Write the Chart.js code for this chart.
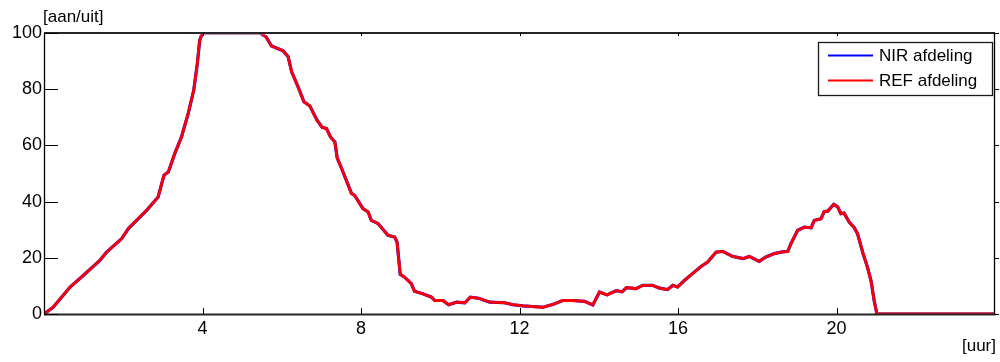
<!DOCTYPE html>
<html>
<head>
<meta charset="utf-8">
<script src="https://cdn.jsdelivr.net/npm/chart.js@4.4.0/dist/chart.umd.min.js"></script>
<style>
html,body{margin:0;padding:0;background:#fff;}
#wrap{width:1000px;height:362px;position:relative;}
</style>
</head>
<body>
<div id="wrap"><canvas id="c" width="1000" height="362"></canvas></div>
<script>
// ---- data ----
const seriesNames = ["NIR afdeling", "REF afdeling"];
const xTickValues = [4, 8, 12, 16, 20];
const yTickValues = [0, 20, 40, 60, 80, 100];
const hours = [0, 0.23, 0.66, 0.99, 1.41, 1.58, 1.96, 2.13, 2.59, 2.88, 2.97, 3.03, 3.14, 3.30, 3.47, 3.64, 3.78, 3.87, 3.93, 4.0,
  5.45, 5.6, 5.74, 6.03, 6.16, 6.25, 6.41, 6.56, 6.71, 6.89, 7.02, 7.13, 7.23, 7.34, 7.40, 7.51, 7.76, 7.84, 8.05, 8.18,
  8.26, 8.43, 8.68, 8.85, 8.91, 8.99, 9.1, 9.27, 9.35, 9.56, 9.78, 9.86, 10.07, 10.21, 10.41, 10.62, 10.76, 10.97, 11.25, 11.62,
  11.83, 12.09, 12.59, 12.84, 13.09, 13.35, 13.64, 13.85, 14.02, 14.21, 14.44, 14.59, 14.70, 14.94, 15.11, 15.36, 15.53, 15.74, 15.87, 15.99,
  16.16, 16.41, 16.58, 16.75, 16.96, 17.13, 17.38, 17.64, 17.8, 18.05, 18.22, 18.43, 18.6, 18.77, 18.85, 19.02, 19.19, 19.36, 19.44, 19.61,
  19.69, 19.78, 19.93, 20.03, 20.11, 20.19, 20.32, 20.45, 20.53, 20.66, 20.78, 20.87, 20.95, 21.02, 24];
const nirValues = [0, 2.4, 9.6, 13.7, 19.1, 22, 26.8, 30.4, 36.9, 41.6, 46.4, 49.4, 50.6, 57.1, 63, 71.4, 79.7, 89.2, 97.5, 100,
  100, 98.7, 95.4, 93.7, 91.6, 86.2, 80.9, 75.5, 74, 69, 66.4, 66, 63, 61.2, 55.5, 51.8, 42.9, 42.2, 37.5, 36.3,
  33.3, 32.2, 28, 27.4, 25.6, 14.1, 13.1, 10.8, 8.1, 7.2, 6, 4.8, 4.8, 3.3, 4.2, 4, 6, 5.6, 4.2, 4,
  3.3, 2.9, 2.4, 3.4, 4.8, 4.8, 4.5, 3.2, 7.8, 6.8, 8.3, 7.9, 9.4, 9, 10.2, 10.2, 9.2, 8.7, 10.2, 9.6,
  11.9, 14.9, 16.9, 18.5, 22, 22.3, 20.5, 19.7, 20.5, 18.7, 20.3, 21.5, 22, 22.3, 25, 29.8, 30.9, 30.7, 33.3, 33.9,
  36.5, 36.6, 39, 38.1, 35.7, 35.9, 32.7, 30.7, 28.6, 22, 16.7, 11.9, 4.8, 0, 0];
const refValues = [0, 2.4, 9.6, 13.7, 19.1, 22, 26.8, 30.4, 36.9, 41.6, 46.4, 49.4, 50.6, 57.1, 63, 71.4, 79.7, 89.2, 97.5, 100,
  100, 98.7, 95.4, 93.7, 91.6, 86.2, 80.9, 75.5, 74, 69, 66.4, 66, 63, 61.2, 55.5, 51.8, 42.9, 42.2, 37.5, 36.3,
  33.3, 32.2, 28, 27.4, 25.6, 14.1, 13.1, 10.8, 8.1, 7.2, 6, 4.8, 4.8, 3.3, 4.2, 4, 6, 5.6, 4.2, 4,
  3.3, 2.9, 2.4, 3.4, 4.8, 4.8, 4.5, 3.2, 7.8, 6.8, 8.3, 7.9, 9.4, 9, 10.2, 10.2, 9.2, 8.7, 10.2, 9.6,
  11.9, 14.9, 16.9, 18.5, 22, 22.3, 20.5, 19.7, 20.5, 18.7, 20.3, 21.5, 22, 22.3, 25, 29.8, 30.9, 30.7, 33.3, 33.9,
  36.5, 36.6, 39, 38.1, 35.7, 35.9, 32.7, 30.7, 28.6, 22, 16.7, 11.9, 4.8, 0, 0];
const yTitle = "[aan/uit]";
const xTitle = "[uur]";
const colors = ["#0000ff", "#ff0000"];

const FONT = '"Liberation Sans", Arial, sans-serif';

function toPoints(vals){ return hours.map((h,i)=>({x:h, y:vals[i]})); }

const boxPlugin = {
  id: 'box',
  afterDraw(chart){
    const ctx = chart.ctx, a = chart.chartArea;
    const xs = chart.scales.x, ys = chart.scales.y;
    ctx.save();
    // frame
    ctx.strokeStyle = '#262626';
    ctx.lineWidth = 2;
    ctx.beginPath(); ctx.moveTo(a.left, a.top); ctx.lineTo(a.right, a.top); ctx.stroke();
    ctx.beginPath(); ctx.moveTo(a.left, a.bottom + 0.5); ctx.lineTo(a.right+0.5, a.bottom + 0.5); ctx.stroke();
    ctx.strokeStyle = '#000';
    ctx.lineWidth = 1.3;
    ctx.beginPath(); ctx.moveTo(a.left+0.5, a.top); ctx.lineTo(a.left+0.5, a.bottom); ctx.stroke();
    ctx.beginPath(); ctx.moveTo(a.right-0.5, a.top); ctx.lineTo(a.right-0.5, a.bottom); ctx.stroke();
    // ticks
    ctx.lineWidth = 1;
    ctx.strokeStyle = '#000';
    xTickValues.forEach(v=>{
      const px = Math.round(xs.getPixelForValue(v)) + 0.5;
      ctx.beginPath(); ctx.moveTo(px, a.bottom); ctx.lineTo(px, a.bottom-6); ctx.stroke();
      ctx.beginPath(); ctx.moveTo(px, a.top); ctx.lineTo(px, a.top+3); ctx.stroke();
    });
    yTickValues.forEach(v=>{
      const py = Math.round(ys.getPixelForValue(v)) + 0.5;
      ctx.beginPath(); ctx.moveTo(a.left, py); ctx.lineTo(a.left+14, py); ctx.stroke();
      ctx.beginPath(); ctx.moveTo(a.right, py); ctx.lineTo(a.right+4, py); ctx.stroke();
    });
    // axis titles
    ctx.fillStyle = '#000';
    ctx.font = '17px ' + FONT;
    ctx.textBaseline = 'middle';
    ctx.textAlign = 'left';
    ctx.fillText(yTitle, a.left - 1, 17);
    ctx.textAlign = 'right';
    ctx.fillText(xTitle, a.right + 1, 346);
    // legend
    const lx = a.right - 177, ly = a.top + 9, lw = 174, lh = 53;
    ctx.fillStyle = '#fff';
    ctx.fillRect(lx, ly, lw, lh);
    ctx.strokeStyle = '#1a1a1a';
    ctx.lineWidth = 1.3;
    ctx.strokeRect(lx+0.5, ly+0.5, lw, lh);
    chart.data.datasets.forEach((ds, i)=>{
      const yy = ly + 13.5 + i*25;
      ctx.strokeStyle = ds.borderColor;
      ctx.lineWidth = 2;
      ctx.beginPath(); ctx.moveTo(lx+10, yy); ctx.lineTo(lx+55, yy); ctx.stroke();
      ctx.fillStyle = '#000';
      ctx.font = '17px ' + FONT;
      ctx.textAlign = 'left';
      ctx.textBaseline = 'middle';
      ctx.fillText(ds.label, lx+61, yy+1);
    });
    ctx.restore();
  }
};

new Chart(document.getElementById('c'), {
  type: 'line',
  data: {
    datasets: [
      { label: seriesNames[0], data: toPoints(nirValues), borderColor: colors[0], borderWidth: 3.2, pointRadius: 0, tension: 0, order: 2,
        clip: { left: 0, top: -1.5, right: 0, bottom: 0 } },
      { label: seriesNames[1], data: toPoints(refValues), borderColor: colors[1], borderWidth: 2.8, pointRadius: 0, tension: 0, order: 1,
        clip: { left: 0, top: -1.5, right: 0, bottom: 0 } }
    ]
  },
  options: {
    responsive: false,
    animation: false,
    events: [],
    layout: { padding: { top: 33, right: 5, left: 0, bottom: 0 } },
    plugins: { legend: { display: false }, tooltip: { enabled: false } },
    scales: {
      x: {
        type: 'linear', min: 0, max: 24,
        afterBuildTicks(s){ s.ticks = xTickValues.map(v=>({value:v})); },
        afterFit(s){ s.height = 48; },
        grid: { display: false, drawTicks: false },
        border: { display: false },
        ticks: { color: '#000', font: { family: FONT, size: 18 }, padding: 4, maxRotation: 0, autoSkip: false }
      },
      y: {
        type: 'linear', min: 0, max: 100,
        afterBuildTicks(s){ s.ticks = yTickValues.map(v=>({value:v})); },
        afterFit(s){ s.width = 44; },
        grid: { display: false, drawTicks: false },
        border: { display: false },
        ticks: { color: '#000', font: { family: FONT, size: 18 }, padding: 2 }
      }
    }
  },
  plugins: [boxPlugin]
});
</script>
</body>
</html>
